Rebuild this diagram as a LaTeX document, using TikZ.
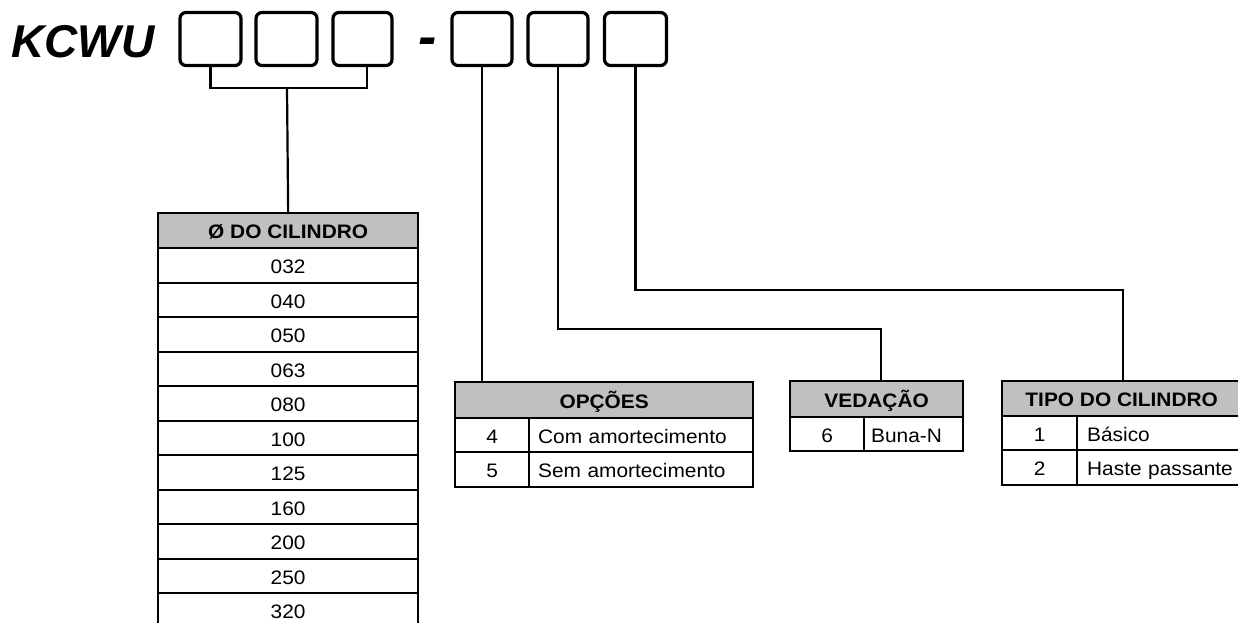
\documentclass[tikz,border=0pt]{standalone}
\usepackage{fontspec}
\setmainfont{Liberation Sans}
\newfontfamily\tabfont[FakeStretch=1.07]{Liberation Sans}
\definecolor{hdrgray}{RGB}{191,192,194}
\begin{document}
\begin{tikzpicture}[x=1pt,y=-1pt,
  codebox/.style={draw, line width=3.2pt, rounded corners=6pt, minimum width=60pt, minimum height=53pt, inner sep=0pt},
  conn/.style={line width=2.2pt},
  tcell/.style={draw, line width=2.3pt, inner sep=0pt, anchor=north west, font=\tabfont\fontsize{19.5}{21}\selectfont, text height=16.5pt, text depth=0pt},
  hdr/.style={tcell, fill=hdrgray, font=\tabfont\bfseries\fontsize{19.5}{21}\selectfont},
  desc/.style={tcell, inner xsep=9pt, align=left}
]
\useasboundingbox (0,0) rectangle (1238,623);
\clip (0,0) rectangle (1238,623);

% title
\node[anchor=base west, inner sep=0pt, font=\bfseries\itshape\fontsize{46}{50}\selectfont] (kcwu) at (11,58) {KCWU};
\node[anchor=base, inner sep=0pt, font=\bfseries\itshape\fontsize{55}{60}\selectfont] (dash) at (428,56) {-};

% code boxes
\node[codebox, minimum width=61pt] (b1) at (210.5,39) {};
\node[codebox, minimum width=61pt] (b2) at (286.5,39) {};
\node[codebox, minimum width=59pt] (b3) at (362.5,39) {};
\node[codebox, minimum width=60pt] (b4) at (482,39) {};
\node[codebox, minimum width=60pt] (b5) at (558,39) {};
\node[codebox, minimum width=62pt] (b6) at (635.5,39) {};

% cylinder table
\node[hdr, minimum width=260pt, minimum height=35pt] (cylh) at (157,212) {Ø DO CILINDRO};
\foreach \v [count=\i] in {032,040,050,063,080,100,125,160,200,250,320}
  \node[tcell, minimum width=260pt, minimum height=34.5pt] (cyl\i) at (157,{247+34.5*(\i-1)}) {\v};

% opcoes table
\node[hdr, minimum width=298pt, minimum height=36pt] (opch) at (454,381) {OPÇÕES};
\node[tcell, minimum width=74pt, minimum height=34pt] (op1n) at (454,417) {4};
\node[desc, text width=206pt, minimum height=34pt] (op1d) at (528,417) {\mbox{Com amortecimento}};
\node[tcell, minimum width=74pt, minimum height=35pt] (op2n) at (454,451) {5};
\node[desc, text width=206pt, minimum height=35pt] (op2d) at (528,451) {\mbox{Sem amortecimento}};

% vedacao table
\node[hdr, minimum width=173pt, minimum height=36pt] (vedh) at (789,380) {VEDAÇÃO};
\node[tcell, minimum width=74pt, minimum height=34pt] (ve1n) at (789,416) {6};
\node[desc, inner xsep=7pt, text width=85pt, minimum height=34pt] (ve1d) at (863,416) {\mbox{Buna-N}};

% tipo table
\node[hdr, minimum width=239pt, minimum height=35pt] (tipoh) at (1001,380) {TIPO DO CILINDRO};
\node[tcell, minimum width=75pt, minimum height=34pt] (ti1n) at (1001,415) {1};
\node[desc, inner xsep=10pt, text width=144pt, minimum height=34pt] (ti1d) at (1076,415) {\mbox{Básico}};
\node[tcell, minimum width=75pt, minimum height=35pt] (ti2n) at (1001,449) {2};
\node[desc, inner xsep=10pt, text width=144pt, minimum height=35pt] (ti2d) at (1076,449) {\mbox{Haste passante}};

% connectors
\coordinate (brk) at (287,88);
\coordinate (b3x) at ([xshift=4.5pt]b3.south);
\coordinate (c5) at (881,329);
\coordinate (c6) at (1123,290);
\draw[conn] (b1.south) |- (brk) -| (b3x);
\draw[conn] (brk) -- (cylh.north);
\draw[conn] (b4.south) -- (b4.south |- opch.north);
\draw[conn] (b5.south) |- (c5) -- (c5 |- vedh.north);
\draw[conn] (b6.south) |- (c6) -- (c6 |- tipoh.north);
\end{tikzpicture}
\end{document}
